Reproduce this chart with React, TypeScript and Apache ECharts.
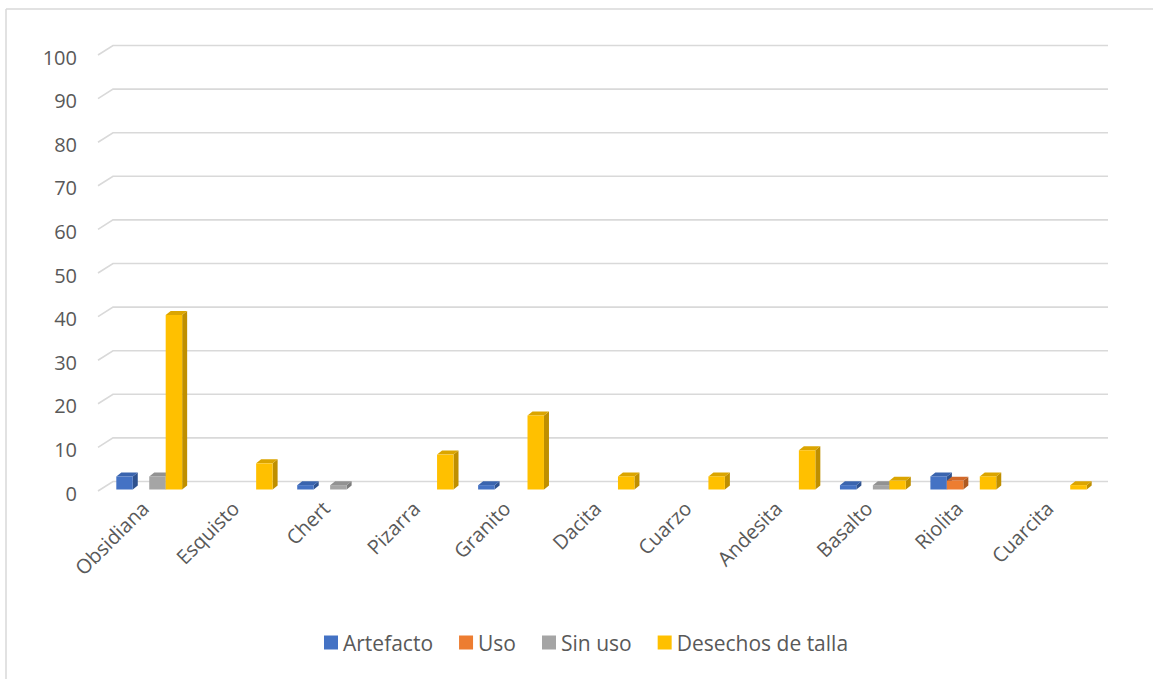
import React, { useEffect, useRef } from "react";
import * as echarts from "echarts";

const categories = ["Obsidiana", "Esquisto", "Chert", "Pizarra", "Granito", "Dacita", "Cuarzo", "Andesita", "Basalto", "Riolita", "Cuarcita"];
const artefacto = [3, 0, 1, 0, 1, 0, 0, 0, 1, 3, 0];
const uso = [0, 0, 0, 0, 0, 0, 0, 0, 0, 2, 0];
const sinUso = [3, 0, 1, 0, 0, 0, 0, 0, 1, 0, 0];
const desechos = [40, 6, 0, 8, 17, 3, 3, 9, 2, 3, 1];
const yTicks = [0, 10, 20, 30, 40, 50, 60, 70, 80, 90, 100];

const seriesDefs = [
  { name: "Artefacto", values: artefacto, color: "#4472C4", top: "#3A64AE", side: "#2F528F" },
  { name: "Uso", values: uso, color: "#ED7D31", top: "#D2692A", side: "#AE5A21" },
  { name: "Sin uso", values: sinUso, color: "#A5A5A5", top: "#929292", side: "#7C7C7C" },
  { name: "Desechos de talla", values: desechos, color: "#FFC000", top: "#DBA500", side: "#BF8F00" },
];

const FONT = "'Open Sans', 'Noto Sans', sans-serif";
const TEXT = "#595959";

export default function App() {
  const ref = useRef<HTMLDivElement>(null);
  useEffect(() => {
    if (!ref.current) return;
    const chart = echarts.init(ref.current, undefined, { renderer: "svg" });
    const DX = 5;
    const DY = 4;

    const gridSeries: any = {
      type: "custom",
      name: "__grid",
      silent: true,
      z: 1,
      data: yTicks.map((v) => [0, v]),
      renderItem: (params: any, api: any) => {
        const cs = params.coordSys;
        const p = api.coord([0, api.value(1)]);
        const y = p[1];
        return {
          type: "polyline",
          shape: {
            points: [
              [cs.x - 6, y + 1.5],
              [cs.x + 9, y - 8],
              [cs.x + cs.width + 9, y - 8],
            ],
          },
          style: { stroke: "#D9D9D9", lineWidth: 1.6, fill: null },
        };
      },
    };

    const barSeries = seriesDefs.map((def, s) => ({
      type: "custom",
      name: def.name,
      z: 5,
      itemStyle: { color: def.color },
      data: def.values.map((v, i) => [i, v]),
      renderItem: (params: any, api: any) => {
        const idx = api.value(0);
        const val = api.value(1);
        if (!val) return null;
        const base = api.coord([idx, 0]);
        const top = api.coord([idx, val]);
        const band = api.size([1, 0])[0];
        const w = band * 0.182;
        const x0 = base[0] + (s - 2) * w;
        const yb = base[1];
        const yt = top[1];
        return {
          type: "group",
          children: [
            {
              type: "polygon",
              shape: { points: [[x0 + w, yt], [x0 + w + DX, yt - DY], [x0 + w + DX, yb - DY], [x0 + w, yb]] },
              style: { fill: def.side },
            },
            {
              type: "polygon",
              shape: { points: [[x0, yt], [x0 + w, yt], [x0 + w + DX, yt - DY], [x0 + DX, yt - DY]] },
              style: { fill: def.top },
            },
            {
              type: "rect",
              shape: { x: x0, y: yt, width: w, height: yb - yt },
              style: { fill: def.color },
            },
          ],
        };
      },
    }));

    chart.setOption({
      animation: false,
      backgroundColor: "#FFFFFF",
      textStyle: { fontFamily: FONT },
      graphic: [
        { type: "line", shape: { x1: 6, y1: 9, x2: 1153, y2: 9 }, style: { stroke: "#D9D9D9", lineWidth: 1.5 } },
        { type: "line", shape: { x1: 6, y1: 9, x2: 6, y2: 679 }, style: { stroke: "#D9D9D9", lineWidth: 1.5 } },
      ],
      grid: { left: 104, width: 995, top: 53.5, bottom: 189.5, containLabel: false },
      legend: {
        data: seriesDefs.map((d) => d.name),
        bottom: 21,
        left: 319,
        icon: "rect",
        itemWidth: 14,
        itemHeight: 14,
        itemGap: 26,
        textStyle: { fontSize: 21, color: TEXT, fontFamily: FONT },
      },
      xAxis: {
        type: "category",
        data: categories,
        boundaryGap: true,
        axisLine: { show: false },
        axisTick: { show: false },
        splitLine: { show: false },
        axisLabel: { rotate: 45, interval: 0, margin: 11, padding: [0, 6, 0, 0], fontSize: 20, color: TEXT, fontFamily: FONT },
      },
      yAxis: {
        type: "value",
        min: 0,
        max: 100,
        interval: 10,
        axisLine: { show: false },
        axisTick: { show: false },
        splitLine: { show: false },
        axisLabel: { margin: 27, verticalAlign: "top", lineHeight: 7, fontSize: 20, color: TEXT, fontFamily: FONT },
      },
      series: [gridSeries, ...barSeries],
    });
    return () => chart.dispose();
  }, []);
  return <div ref={ref} style={{ position: "fixed", left: 0, top: 0, width: 1153, height: 679 }} />;
}
